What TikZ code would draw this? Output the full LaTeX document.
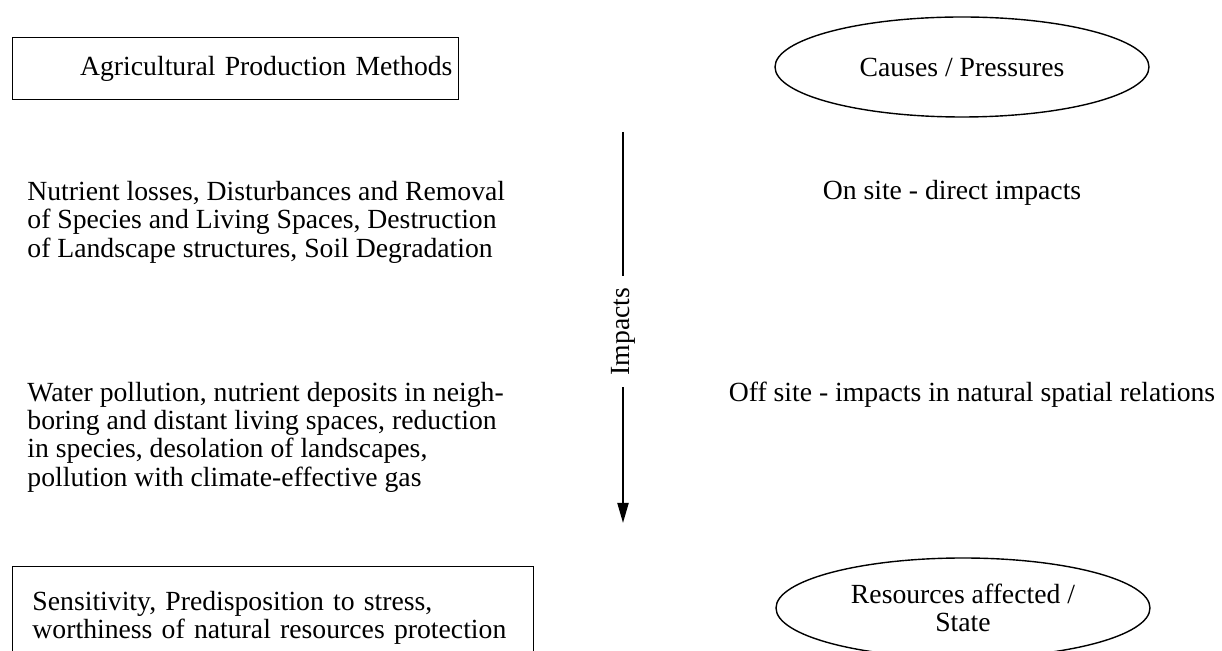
\documentclass[tikz,border=0pt]{standalone}
\usepackage{fontspec}
\setmainfont{Liberation Serif}
\usetikzlibrary{arrows.meta, shapes.geometric, positioning}

\begin{document}
\begin{tikzpicture}[x=0.5pt, y=-0.5pt,
    every node/.style={font=\fontsize{13.85}{14.2}\selectfont},
    framebox/.style={draw, line width=0.5pt, inner sep=0pt, anchor=north west},
    oval/.style={draw, ellipse, line width=0.7pt, minimum width=187pt,
                 minimum height=50pt, inner sep=0pt, align=center},
    blurb/.style={inner sep=0pt, align=left, anchor=west}]
  \useasboundingbox (0,0) rectangle (1222,651);
  \clip (0,0) rectangle (1222,651);

  % upper row
  \node[framebox, minimum width=223pt, minimum height=31pt,
        text width=217pt, align=right] (methods) at (12,37)
    {Agricultural Production Methods};
  \node[oval] (causes) at (962,67) {Causes / Pressures};

  % impacts, left and right
  \node[blurb] (onsite) at (27,222)
    {Nutrient losses, Disturbances and Removal\\
     of Species and Living Spaces, Destruction\\
     of Landscape structures, Soil Degradation};
  \node (direct) at (952,193) {On site - direct impacts};
  \node[blurb] (offsite) at (27,437)
    {Water pollution, nutrient deposits in neigh-\\
     boring and distant living spaces, reduction\\
     in species, desolation of landscapes,\\
     pollution with climate-effective gas};
  \node (spatial) at (972,395) {Off site - impacts in natural spatial relations};

  % lower row
  \node[framebox, minimum height=51.5pt, text width=240.5pt,
        inner xsep=10pt, align=left] (sensitivity) at (12,566)
    {Sensitivity, Predisposition to stress,\\
     worthiness of natural resources protection};
  \node[oval] (state) at (963,608) {Resources affected /\\State};

  % the arrow in the middle
  \coordinate (impacttop) at (623,132);
  \coordinate (impactend) at (623,523);
  \draw[line width=1pt, -{Triangle[length=10pt, width=5.5pt]}]
    (impacttop) -- node[pos=0.51, fill=white, rotate=90, inner xsep=6pt] (impactlabel) {Impacts}
    (impactend);
\end{tikzpicture}
\end{document}
